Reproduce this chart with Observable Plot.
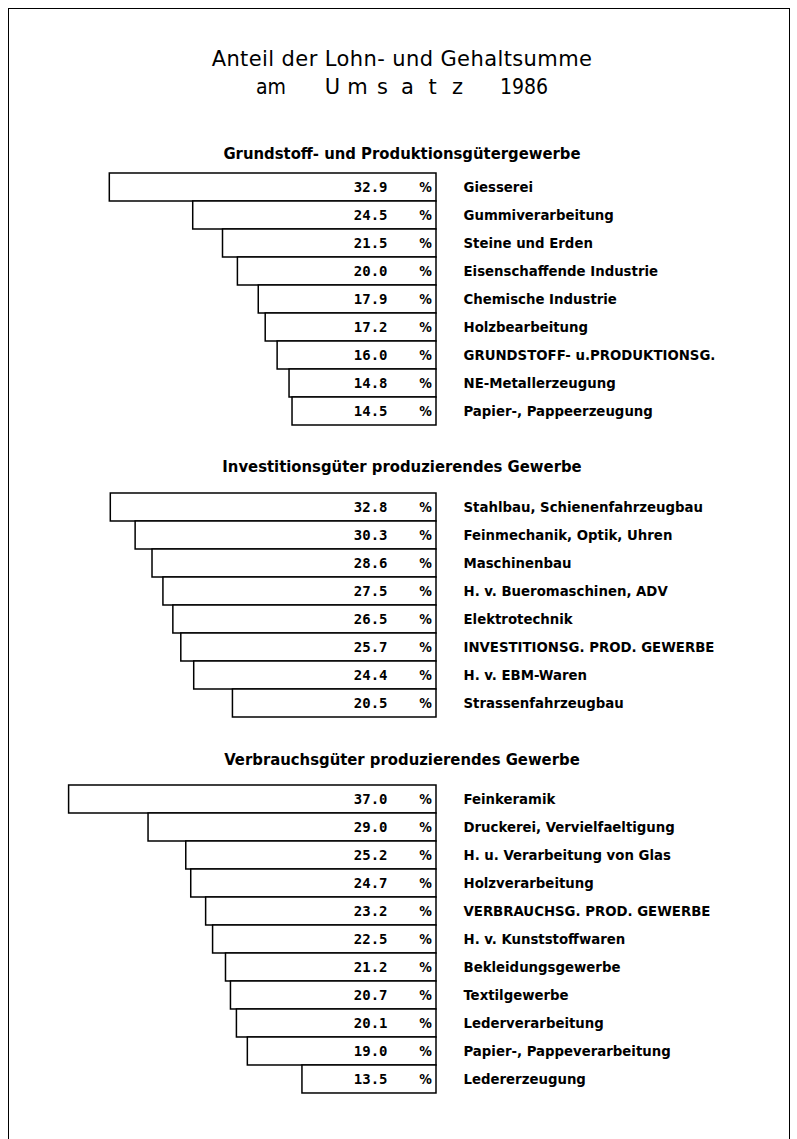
<!DOCTYPE html>
<html><head><meta charset="utf-8">
<script src="https://cdn.jsdelivr.net/npm/d3@7"></script>
<script src="https://cdn.jsdelivr.net/npm/@observablehq/plot@0.6"></script>
<style>
body{margin:0;background:#fff;width:797px;height:1139px;overflow:hidden;position:relative;font-family:"DejaVu Sans Condensed","DejaVu Sans",sans-serif;color:#000;}
#frame{position:absolute;left:8px;top:8px;width:780px;height:1200px;border:1.5px solid #000;}
.t{position:absolute;left:0;width:804px;text-align:center;white-space:pre;line-height:1;}
.title{font-family:"DejaVu Sans",sans-serif;font-size:21px;font-weight:normal;letter-spacing:0.4px;}
.tl{position:absolute;font-family:"DejaVu Sans Condensed",sans-serif;font-size:21px;line-height:1;white-space:pre;top:0px;}
.ch{position:absolute;width:25px;text-align:center;font-family:"DejaVu Sans",sans-serif;font-size:21px;line-height:1;}
.head{font-size:16.5px;font-weight:bold;}
.chart{position:absolute;left:0;}
.chart svg{overflow:visible;}
</style></head>
<body>
<div id="frame"></div>
<div class="t title" style="top:49px">Anteil der Lohn- und Gehaltsumme</div>
<div id="line2" style="position:absolute;left:0;top:77px;width:797px;height:24px"></div>
<div class="t head" id="h1" style="top:146px"></div>
<div class="t head" id="h2" style="top:459px"></div>
<div class="t head" id="h3" style="top:752px"></div>
<div class="chart" id="c1" style="top:172px"></div>
<div class="chart" id="c2" style="top:493px"></div>
<div class="chart" id="c3" style="top:781px"></div>
<script>
const titleLine2 = ["am", "Umsatz", "1986"];
const groupTitles = [
  "Grundstoff- und Produktionsgütergewerbe",
  "Investitionsgüter produzierendes Gewerbe",
  "Verbrauchsgüter produzierendes Gewerbe"
];
const g1Names = ["Giesserei","Gummiverarbeitung","Steine und Erden","Eisenschaffende Industrie","Chemische Industrie","Holzbearbeitung","GRUNDSTOFF- u.PRODUKTIONSG.","NE-Metallerzeugung","Papier-, Pappeerzeugung"];
const g1Values = [32.9,24.5,21.5,20.0,17.9,17.2,16.0,14.8,14.5];
const g2Names = ["Stahlbau, Schienenfahrzeugbau","Feinmechanik, Optik, Uhren","Maschinenbau","H. v. Bueromaschinen, ADV","Elektrotechnik","INVESTITIONSG. PROD. GEWERBE","H. v. EBM-Waren","Strassenfahrzeugbau"];
const g2Values = [32.8,30.3,28.6,27.5,26.5,25.7,24.4,20.5];
const g3Names = ["Feinkeramik","Druckerei, Vervielfaeltigung","H. u. Verarbeitung von Glas","Holzverarbeitung","VERBRAUCHSG. PROD. GEWERBE","H. v. Kunststoffwaren","Bekleidungsgewerbe","Textilgewerbe","Lederverarbeitung","Papier-, Pappeverarbeitung","Ledererzeugung"];
const g3Values = [37.0,29.0,25.2,24.7,23.2,22.5,21.2,20.7,20.1,19.0,13.5];

const rowHeights = [28.2, 28.1, 28.7];

// title line 2: spaced-out letters
(function () {
  const host = document.getElementById("line2");
  const am = document.createElement("div");
  am.className = "tl"; am.style.left = "256px"; am.textContent = titleLine2[0];
  host.appendChild(am);
  [...titleLine2[1]].forEach((c, i) => {
    const s = document.createElement("div");
    s.className = "ch"; s.style.left = (320 + i * 25) + "px"; s.style.top = "0px"; s.textContent = c;
    host.appendChild(s);
  });
  const yr = document.createElement("div");
  yr.className = "tl"; yr.style.left = "500px"; yr.textContent = titleLine2[2];
  host.appendChild(yr);
})();

function draw(names, values, rowH) {
  const data = names.map((n, i) => ({name: n, value: values[i]}));
  const h = names.length * rowH;
  return Plot.plot({
    width: 797,
    height: h,
    marginTop: 0, marginBottom: 0, marginLeft: 0, marginRight: 0,
    x: {domain: [0, 37], range: [436, 436 - 37 * 9.93], axis: null},
    y: {domain: names, range: [0, h], padding: 0, axis: null},
    style: {background: "transparent", overflow: "visible"},
    marks: [
      Plot.barX(data, {x1: 0, x2: "value", y: "name", fill: "white", stroke: "black", strokeWidth: 1.5}),
      Plot.text(data, {x: () => 0, y: "name", text: d => d.value.toFixed(1), dx: -49, textAnchor: "end",
        fontFamily: "DejaVu Sans Mono", fontWeight: "bold", fontSize: 14, fill: "black", letterSpacing: "2px"}),
      Plot.text(data, {x: () => 0, y: "name", text: () => "%", dx: -11, textAnchor: "middle",
        fontFamily: "DejaVu Sans Condensed", fontWeight: "bold", fontSize: 14, fill: "black"}),
      Plot.text(data, {x: () => 0, y: "name", text: "name", dx: 27, textAnchor: "start",
        fontFamily: "DejaVu Sans Condensed", fontWeight: "bold", fontSize: 14.8, fill: "black"})
    ]
  });
}
document.getElementById("h1").textContent = groupTitles[0];
document.getElementById("h2").textContent = groupTitles[1];
document.getElementById("h3").textContent = groupTitles[2];
document.getElementById("c1").appendChild(draw(g1Names, g1Values, rowHeights[0]));
document.getElementById("c2").appendChild(draw(g2Names, g2Values, rowHeights[1]));
document.getElementById("c3").appendChild(draw(g3Names, g3Values, rowHeights[2]));
</script>
</body></html>
